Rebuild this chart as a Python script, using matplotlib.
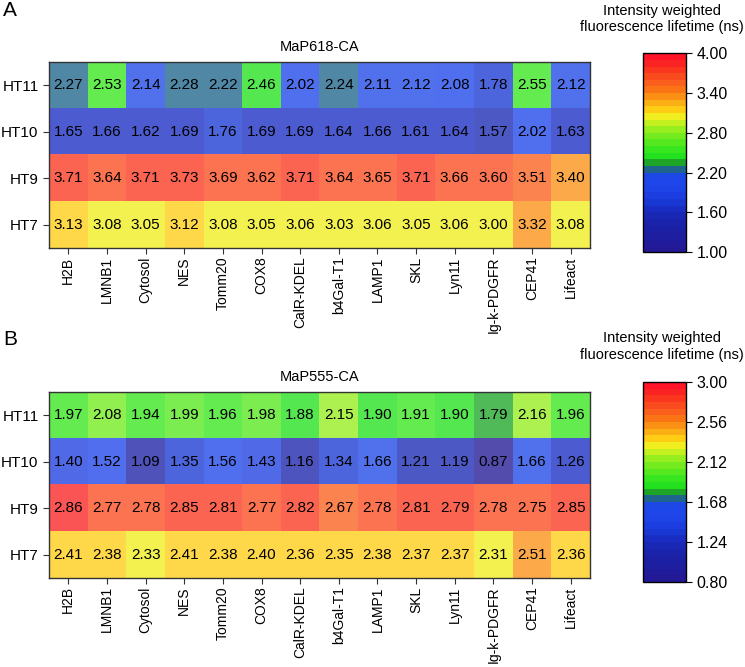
import numpy as np
import matplotlib
matplotlib.use("Agg")
import matplotlib.pyplot as plt
from matplotlib.colors import ListedColormap, Normalize
from matplotlib.cm import ScalarMappable

plt.rcParams["font.family"] = ["Liberation Sans", "DejaVu Sans"]

rows = ["HT11", "HT10", "HT9", "HT7"]
cols = ["H2B", "LMNB1", "Cytosol", "NES", "Tomm20", "COX8", "CalR-KDEL",
        "b4Gal-T1", "LAMP1", "SKL", "Lyn11", "Ig-k-PDGFR", "CEP41", "Lifeact"]

map618 = [
    [2.27, 2.53, 2.14, 2.28, 2.22, 2.46, 2.02, 2.24, 2.11, 2.12, 2.08, 1.78, 2.55, 2.12],
    [1.65, 1.66, 1.62, 1.69, 1.76, 1.69, 1.69, 1.64, 1.66, 1.61, 1.64, 1.57, 2.02, 1.63],
    [3.71, 3.64, 3.71, 3.73, 3.69, 3.62, 3.71, 3.64, 3.65, 3.71, 3.66, 3.60, 3.51, 3.40],
    [3.13, 3.08, 3.05, 3.12, 3.08, 3.05, 3.06, 3.03, 3.06, 3.05, 3.06, 3.00, 3.32, 3.08],
]
map555 = [
    [1.97, 2.08, 1.94, 1.99, 1.96, 1.98, 1.88, 2.15, 1.90, 1.91, 1.90, 1.79, 2.16, 1.96],
    [1.40, 1.52, 1.09, 1.35, 1.56, 1.43, 1.16, 1.34, 1.66, 1.21, 1.19, 0.87, 1.66, 1.26],
    [2.86, 2.77, 2.78, 2.85, 2.81, 2.77, 2.82, 2.67, 2.78, 2.81, 2.79, 2.78, 2.75, 2.85],
    [2.41, 2.38, 2.33, 2.41, 2.38, 2.40, 2.36, 2.35, 2.38, 2.37, 2.37, 2.31, 2.51, 2.36],
]

# 30-step lifetime colour table, low -> high
lut = [
    (35, 25, 150), (32, 27, 155), (30, 30, 160), (28, 32, 165), (27, 35, 170),
    (25, 40, 180), (25, 45, 195), (25, 55, 210), (28, 62, 225), (30, 68, 232),
    (30, 70, 235), (30, 72, 230), (30, 100, 140), (30, 165, 40), (35, 225, 30),
    (55, 230, 30), (85, 232, 30), (115, 235, 30), (150, 238, 30), (195, 240, 30),
    (240, 238, 30), (255, 205, 20), (250, 175, 20), (250, 145, 20), (250, 115, 20),
    (250, 95, 30), (250, 75, 30), (250, 55, 30), (250, 35, 35), (255, 20, 40),
]
cmap = ListedColormap([(r / 255, g / 255, b / 255) for r, g, b in lut])


def draw_panel(fig, ax_rect, cb_rect, data, title, vmin, vmax, letter, letter_y, label_y):
    norm = Normalize(vmin=vmin, vmax=vmax)
    ax = fig.add_axes(ax_rect)
    arr = np.array(data)
    ax.imshow(arr, cmap=cmap, norm=norm, aspect="auto", alpha=0.78,
              interpolation="nearest")
    for i in range(arr.shape[0]):
        for j in range(arr.shape[1]):
            ax.text(j, i, f"{arr[i, j]:.2f}", ha="center", va="center",
                    fontsize=11, color="black")
    ax.set_xticks(range(len(cols)))
    ax.set_xticklabels(cols, rotation=90, fontsize=10)
    ax.set_yticks(range(len(rows)))
    ax.set_yticklabels(rows, fontsize=11)
    ax.tick_params(length=4, width=0.8, color="#333333")
    ax.tick_params(axis="x", pad=2)
    for s in ax.spines.values():
        s.set_linewidth(1.0)
        s.set_color("#333333")
    ax.set_title(title, fontsize=10.5, pad=8)

    cax = fig.add_axes(cb_rect)
    sm = ScalarMappable(norm=norm, cmap=cmap)
    cb = fig.colorbar(sm, cax=cax)
    ticks = np.linspace(vmin, vmax, 6)
    cb.set_ticks(ticks)
    cb.set_ticklabels([f"{t:.2f}" for t in ticks])
    cb.ax.tick_params(labelsize=11.5, length=4, width=0.8)
    cb.outline.set_linewidth(1.0)
    fig.text(0.888, label_y, "Intensity weighted\nfluorescence lifetime (ns)",
             ha="center", va="top", fontsize=10.5, linespacing=1.2)
    fig.text(0.004, letter_y, letter, ha="left", va="top", fontsize=15)


fig = plt.figure(figsize=(7.45, 6.67), dpi=100)
draw_panel(fig, [0.0658, 0.628, 0.726, 0.279], [0.863, 0.622, 0.0577, 0.298],
           map618, "MaP618-CA", 1.0, 4.0, "A", 0.999, 0.994)
draw_panel(fig, [0.0658, 0.1334, 0.726, 0.279], [0.863, 0.1274, 0.0577, 0.30],
           map555, "MaP555-CA", 0.8, 3.0, "B", 0.505, 0.503)

fig.savefig("out.png", dpi=100)
